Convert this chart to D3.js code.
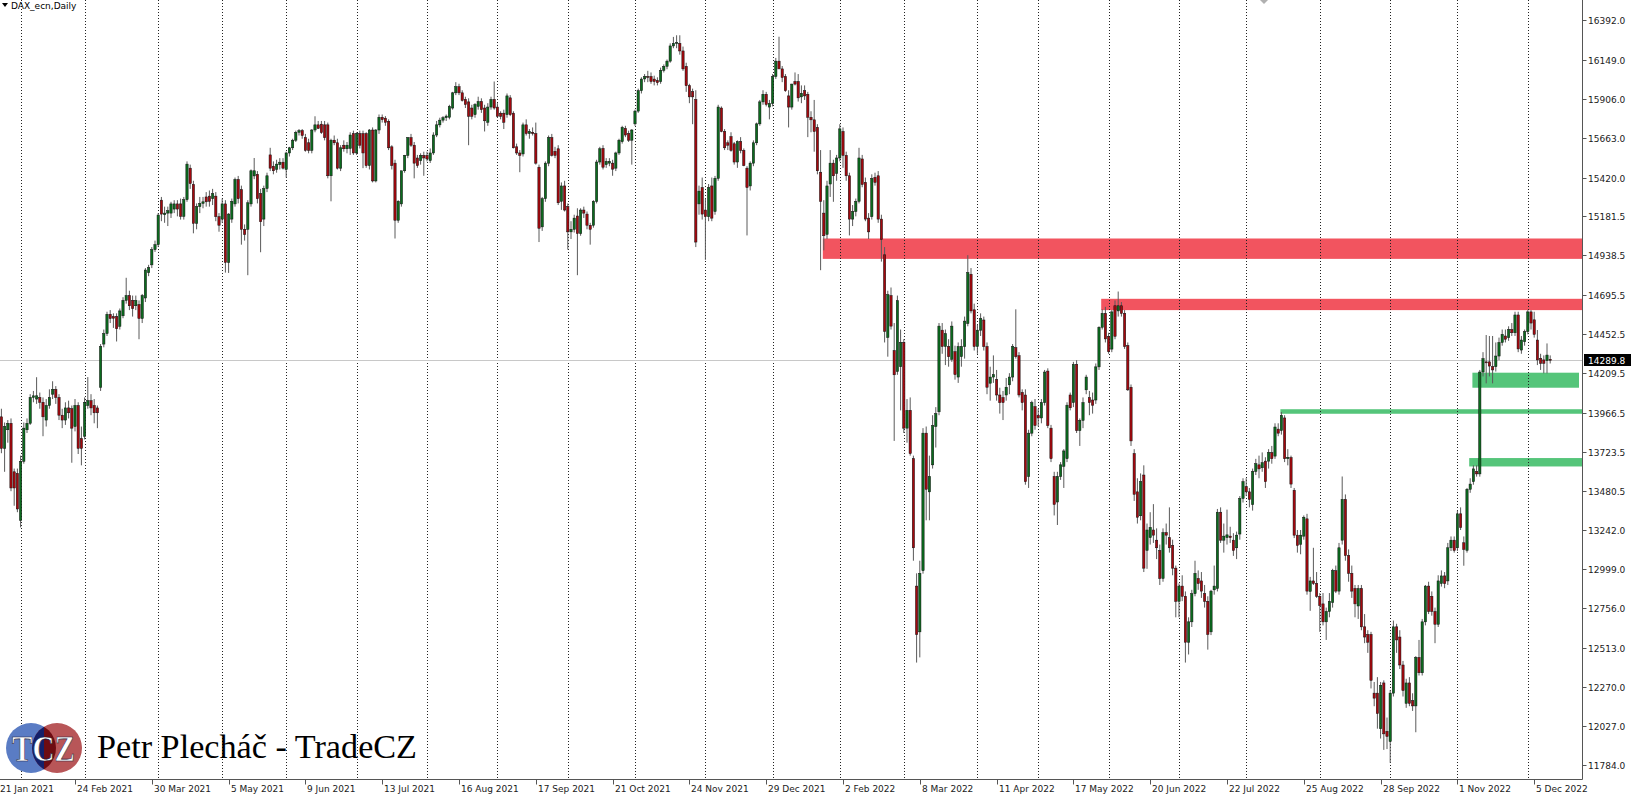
<!DOCTYPE html>
<html><head><meta charset="utf-8">
<script src="https://cdn.jsdelivr.net/npm/d3@7"></script>
<style>
html,body{margin:0;padding:0;background:#fff;overflow:hidden}
svg{display:block}
</style></head><body>
<svg id="c" width="1631" height="798"></svg>
<script>
// ---------------- data ----------------
const symbolTitle = "DAX_ecn,Daily";
const brandText = "Petr Plecháč - TradeCZ";
const logoText = "TCZ";
const firstCalendarDay = "2021-01-21";
const marketHolidays = ["2021-04-02","2021-04-05","2021-05-24","2021-12-24","2021-12-31","2022-04-15","2022-04-18"];
const xTickLabels = ["21 Jan 2021","24 Feb 2021","30 Mar 2021","5 May 2021","9 Jun 2021","13 Jul 2021","16 Aug 2021","17 Sep 2021","21 Oct 2021","24 Nov 2021","29 Dec 2021","2 Feb 2022","8 Mar 2022","11 Apr 2022","17 May 2022","20 Jun 2022","22 Jul 2022","25 Aug 2022","28 Sep 2022","1 Nov 2022","5 Dec 2022"];
const yTickValues = [16392.0,16149.0,15906.0,15663.0,15420.0,15181.5,14938.5,14695.5,14452.5,14209.5,13966.5,13723.5,13480.5,13242.0,12999.0,12756.0,12513.0,12270.0,12027.0,11784.0];
const lastPrice = 14289.8;

const open = [
13940,13745,13860,13900,13600,13590,13300,13665,13860,13900,
14060,14050,14060,14030,13920,14010,14080,14110,14060,13950,
13920,13995,13990,13880,14010,13805,13820,14010,14040,14010,
13995,14123,14390,14455,14574,14560,14560,14500,14565,14660,
14690,14660,14627,14635,14548,14675,14832,14880,14974,15005,
15280,15190,15200,15200,15225,15257,15257,15180,15283,15478,
15377,15137,15240,15260,15300,15305,15290,15305,15178,15163,
15257,14895,15163,15257,15408,15345,15100,15100,15257,15430,
15440,15320,15163,15352,15560,15490,15471,15500,15515,15470,
15572,15604,15651,15700,15710,15667,15635,15588,15714,15746,
15750,15746,15746,15431,15651,15635,15478,15620,15598,15600,
15692,15572,15692,15692,15692,15494,15714,15399,15714,15793,
15787,15768,15610,15509,15156,15257,15462,15557,15667,15620,
15541,15525,15557,15557,15525,15572,15683,15746,15775,15790,
15793,15850,15944,15982,15944,15903,15888,15850,15809,15860,
15890,15850,15762,15856,15903,15856,15818,15818,15809,15913,
15818,15610,15572,15566,15746,15692,15700,15692,15484,15115,
15289,15509,15667,15582,15598,15273,15368,15241,15084,15100,
15182,15074,15219,15194,15125,15125,15273,15516,15600,15500,
15509,15509,15478,15572,15642,15724,15692,15651,15752,15831,
15957,16030,16045,16045,16029,16020,16014,16083,16108,16140,
16234,16250,16250,16203,16108,15988,15951,15903,15257,15358,
15219,15178,15368,15210,15415,15850,15705,15635,15673,15629,
15516,15642,15588,15478,15368,15509,15635,15752,15888,15935,
15856,15878,16045,16140,16092,16045,15925,15856,16014,16014,
15919,15957,15935,15793,15777,15730,15453,15200,15068,15380,
15509,15446,15541,15705,15557,15431,15163,15210,15273,15535,
15390,15169,15178,15421,15431,15163,14942,14431,14690,14350,
14220,14250,14400,13870,13980,13681,12893,12610,12988,13839,
13476,13643,13880,13971,14476,14375,14375,14296,14343,14186,
14312,14375,14517,14822,14602,14375,14476,14539,14375,14148,
14186,14170,14075,14059,14075,14138,14186,14368,14318,14091,
14075,13571,13839,14003,13949,13933,14028,14223,13870,13571,
13413,13571,13634,13681,14075,14028,14264,13855,13918,14107,
14059,14044,14044,14249,14494,14580,14438,14359,14627,14595,
14627,14580,14381,14123,13713,13476,13328,13580,13114,13193,
13240,13177,13114,12940,13224,13193,13145,13004,12799,12893,
12830,12546,12672,12846,12940,12925,12846,12799,12610,12870,
12878,13350,13177,13193,13202,13177,13130,13215,13435,13508,
13476,13398,13602,13643,13625,13666,13666,13719,13697,13864,
13855,13933,13681,13688,13486,13208,13152,13202,13309,12860,
12925,12909,12830,12783,12672,12736,12792,12988,12862,13177,
13429,13082,12972,12878,12770,12878,12641,12594,12594,12231,
12231,12011,12294,11995,11932,12231,12641,12578,12405,12168,
12294,12184,12152,12452,12357,12672,12893,12830,12736,12657,
12909,12956,12925,13130,13177,13130,13340,13161,13114,13492,
13539,13602,13587,14217,14280,14280,14250,14250,14316,14400,
14440,14430,14480,14460,14570,14353,14405,14467,14589,14540,
14415,14302,14292,14287,14296];
const high = [
13990,13905,13920,13930,13620,13620,13700,13905,13930,14080,
14100,14185,14090,14060,14050,14110,14160,14130,14080,13990,
14030,14040,14010,14050,14030,13880,14060,14186,14080,14050,
14010,14390,14480,14590,14600,14580,14580,14610,14680,14800,
14720,14690,14690,14660,14700,14860,14880,14990,15030,15200,
15300,15240,15240,15270,15280,15280,15290,15300,15520,15500,
15400,15260,15300,15300,15330,15340,15350,15330,15200,15290,
15280,15200,15290,15420,15430,15370,15130,15280,15470,15541,
15460,15350,15370,15450,15604,15520,15530,15540,15540,15580,
15610,15660,15710,15720,15720,15690,15660,15720,15799,15770,
15770,15770,15760,15660,15680,15660,15620,15650,15640,15700,
15710,15700,15710,15710,15700,15720,15730,15720,15810,15810,
15800,15780,15620,15530,15280,15460,15560,15670,15690,15640,
15560,15570,15580,15580,15600,15700,15770,15790,15800,15810,
15870,15950,16010,16000,15960,15920,15910,15870,15880,15920,
15910,15870,15880,15920,16014,15880,15830,15840,15940,15930,
15830,15630,15590,15760,15780,15720,15730,15760,15500,15300,
15520,15680,15690,15610,15620,15390,15400,15260,15150,15190,
15230,15230,15240,15210,15140,15280,15530,15610,15620,15540,
15540,15530,15580,15660,15740,15740,15710,15720,15840,15970,
16040,16060,16080,16070,16050,16040,16100,16120,16150,16250,
16290,16300,16300,16230,16130,16000,15970,15960,15370,15420,
15290,15380,15420,15430,15870,15860,15720,15650,15700,15640,
15650,15670,15600,15490,15520,15650,15760,15900,15960,15950,
15900,16060,16160,16291,16110,16060,15960,16000,16070,16060,
15990,15990,15950,15830,15900,15750,15590,15280,15400,15590,
15530,15560,15750,15730,15580,15450,15250,15290,15604,15560,
15420,15200,15440,15450,15460,15190,14990,14720,14740,14520,
14690,14480,14420,14050,14060,13700,12972,13050,13870,13880,
13700,13950,14000,14520,14520,14480,14420,14530,14380,14400,
14420,14560,14940,14860,14640,14510,14580,14560,14400,14250,
14320,14230,14120,14100,14180,14210,14390,14605,14340,14110,
14110,13860,14040,14050,13990,14050,14230,14240,13890,13600,
13600,13660,13740,14030,14090,14280,14290,13930,14060,14200,
14100,14090,14270,14500,14605,14620,14460,14600,14660,14715,
14650,14600,14400,14140,13740,13560,13590,13640,13280,13350,
13400,13250,13150,13250,13280,13380,13180,13020,12910,12960,
12860,12700,12870,13050,12990,12980,12900,12830,12870,13020,
13370,13380,13280,13366,13260,13220,13230,13450,13560,13560,
13500,13620,13680,13700,13720,13690,13740,13760,13900,13900,
13970,13950,13740,13700,13500,13240,13240,13330,13340,12950,
13130,12980,12850,12850,12760,12850,13000,13020,13160,13571,
13460,13120,13020,12900,12900,12900,12720,12620,12610,12300,
12330,12300,12310,12080,12250,12680,12660,12620,12430,12320,
12330,12230,12460,12560,12690,12900,12920,12860,12760,12960,
12990,12980,13160,13200,13200,13360,13380,13200,13500,13560,
13640,13640,14230,14340,14446,14440,14440,14400,14430,14480,
14480,14500,14520,14590,14590,14440,14480,14600,14600,14590,
14477,14330,14320,14394,14320];
const low = [
13715,13600,13780,13480,13390,13350,13256,13650,13840,13890,
14030,14020,13990,13820,13880,13990,14050,14020,13920,13870,
13890,13930,13656,13850,13710,13640,13800,13990,13950,13900,
13870,14100,14370,14440,14520,14490,14406,14480,14550,14640,
14600,14560,14600,14420,14520,14650,14810,14860,14960,14990,
15150,15140,15120,15170,15200,15180,15160,15160,15270,15350,
15075,15100,15200,15230,15240,15240,15250,15150,15085,15140,
14832,14830,15140,15240,15260,15005,15030,14816,15240,15410,
15260,14958,15120,15330,15460,15440,15450,15470,15470,15420,
15550,15590,15640,15680,15660,15580,15570,15570,15700,15720,
15690,15650,15415,15273,15620,15470,15460,15580,15570,15560,
15560,15560,15600,15478,15480,15470,15390,15390,15690,15760,
15740,15590,15470,15043,15140,15240,15450,15540,15610,15415,
15480,15500,15431,15520,15510,15560,15670,15730,15760,15770,
15780,15840,15930,15930,15890,15850,15620,15780,15790,15840,
15820,15705,15740,15840,15840,15790,15780,15720,15790,15800,
15600,15560,15453,15550,15680,15660,15680,15500,15021,15090,
15270,15490,15550,15540,15250,15220,15210,14974,15040,15080,
14816,15060,15170,15100,15005,15110,15260,15500,15470,15480,
15490,15431,15460,15560,15630,15670,15640,15500,15740,15820,
15940,16010,16010,16000,15990,15990,16000,16070,16090,16130,
16220,16220,16180,16080,15950,15880,15750,14990,15190,15160,
14911,15150,15150,15190,15400,15700,15590,15590,15580,15500,
15480,15570,15490,15062,15340,15490,15620,15740,15870,15860,
15780,15860,16030,16100,16010,15950,15730,15840,15990,15890,
15880,15900,15670,15700,15580,15440,14847,14970,15040,15300,
15270,15400,15520,15480,15400,15062,15120,15180,15260,15360,
15150,15040,15160,15370,15140,14900,14400,14312,14480,13791,
14200,13980,13840,13780,13700,13050,12420,12452,12970,13300,
13300,13620,13750,13950,14330,14260,14250,14280,14170,14150,
14250,14300,14500,14580,14350,14330,14440,14350,14080,14040,
14150,14040,13960,13920,14040,14080,14160,14300,14060,13980,
13520,13500,13820,13860,13880,13900,14010,13870,13660,13330,
13271,13550,13500,13660,13980,14000,13840,13760,13870,14080,
13950,13960,14020,14230,14480,14400,14330,14340,14420,14560,
14560,14360,14100,13760,13420,13280,13300,12980,13000,13150,
13160,13060,12900,12920,13150,13100,12960,12700,12700,12800,
12420,12470,12640,12830,12870,12820,12760,12500,12590,12840,
12860,13160,13100,13150,13160,13080,13060,13180,13410,13450,
13380,13360,13580,13560,13600,13500,13620,13650,13680,13820,
13830,13660,13640,13500,13190,13100,13090,13180,12840,12740,
12900,12820,12610,12650,12560,12700,12760,12850,12840,13150,
13050,12920,12820,12700,12690,12620,12540,12480,12260,12150,
12011,11950,11880,11885,11800,12210,12480,12380,12210,12140,
12150,12121,11989,12340,12340,12650,12720,12710,12540,12640,
12890,12880,12900,13110,13100,13110,13240,13019,13100,13470,
13520,13570,13570,14190,14147,14190,14147,14220,14290,14380,
14400,14410,14440,14440,14340,14330,14380,14450,14480,14430,
14260,14230,14209,14209,14270];
const close = [
13745,13880,13900,13500,13500,13370,13665,13870,13900,14060,
14070,14070,14030,13940,14010,14060,14110,14060,13950,13920,
13995,13965,13870,14010,13745,13745,14030,14040,13995,13965,
13965,14375,14455,14574,14548,14550,14485,14595,14660,14690,
14627,14610,14660,14548,14690,14848,14863,14974,15005,15188,
15194,15200,15215,15257,15257,15225,15180,15283,15503,15383,
15137,15240,15260,15270,15270,15273,15320,15178,15125,15257,
14895,15194,15273,15408,15289,15100,15068,15264,15462,15462,
15289,15147,15352,15431,15478,15462,15503,15515,15478,15572,
15604,15651,15700,15710,15680,15588,15588,15714,15746,15724,
15698,15667,15431,15651,15635,15478,15604,15598,15620,15683,
15572,15692,15620,15572,15494,15714,15399,15714,15793,15778,
15762,15604,15494,15156,15273,15462,15557,15667,15620,15509,
15494,15557,15541,15535,15572,15683,15746,15775,15790,15800,
15860,15944,15982,15944,15897,15872,15799,15799,15872,15890,
15840,15771,15856,15903,15850,15799,15799,15762,15925,15809,
15604,15572,15557,15746,15692,15705,15692,15509,15106,15289,
15509,15667,15557,15557,15264,15368,15219,15084,15100,15169,
15074,15219,15200,15125,15100,15273,15516,15598,15484,15520,
15520,15472,15572,15651,15730,15683,15651,15714,15831,15957,
16029,16045,16040,16014,16014,16007,16083,16108,16140,16234,
16250,16255,16203,16092,15988,15919,15919,15021,15336,15194,
15178,15358,15169,15415,15856,15705,15604,15620,15588,15516,
15642,15588,15494,15358,15509,15635,15752,15888,15935,15872,
15878,16045,16140,16092,16039,15957,15856,15998,15998,15913,
15941,15925,15793,15777,15705,15462,15273,15060,15368,15509,
15431,15541,15721,15557,15431,15163,15210,15273,15541,15377,
15163,15084,15415,15390,15163,15037,14469,14696,14501,14200,
14658,14400,13870,13980,13713,13130,12594,12972,13839,13492,
13571,13886,13960,14501,14375,14454,14312,14501,14201,14375,
14375,14532,14832,14595,14375,14476,14548,14375,14123,14186,
14201,14075,14028,14028,14123,14186,14375,14312,14075,14028,
13539,13839,14028,13886,13933,14028,14217,13886,13681,13398,
13571,13643,13729,14012,13996,14264,13855,13918,14028,14186,
14028,14012,14249,14494,14580,14422,14343,14589,14438,14627,
14580,14375,14107,13791,13461,13319,13539,13004,13240,13256,
13208,13130,12940,13224,13208,13130,13004,12799,12893,12830,
12546,12672,12846,12972,12909,12862,12799,12594,12862,12893,
13350,13177,13202,13210,13193,13114,13208,13435,13539,13476,
13429,13602,13650,13618,13656,13539,13719,13681,13877,13839,
13949,13681,13690,13524,13208,13145,13208,13319,12862,12925,
12909,12830,12773,12672,12736,12799,12988,12862,13130,13429,
13082,12972,12862,12783,12878,12641,12578,12546,12310,12200,
12105,12279,11979,11963,12231,12641,12560,12405,12247,12294,
12168,12152,12452,12357,12672,12893,12736,12736,12657,12925,
12956,12909,13130,13177,13114,13340,13256,13120,13492,13524,
13618,13587,14217,14300,14274,14254,14230,14316,14400,14450,
14420,14480,14460,14570,14360,14415,14467,14589,14520,14450,
14292,14271,14271,14322,14290];

// horizontal zones drawn on the chart (prices and anchor dates)
const zoneStart = ["2022-01-25","2022-05-30","2022-08-16","2022-11-08","2022-11-07"];
const zoneEnd   = ["2022-12-26","2022-12-26","2022-12-26","2022-12-23","2022-12-26"];
const zoneLow   = [14917, 14600, 13959, 14120, 13633];
const zoneHigh  = [15043, 14670, 13987, 14213, 13685];
const zoneKind  = ["resistance","resistance","support","support","support"];

// ---------------- drawing ----------------
const W = 1631, H = 798;
const plotRight = 1582.5, plotBottom = 779.5;
const svg = d3.select("#c");
svg.append("rect").attr("width", W).attr("height", H).attr("fill", "#fff");

const fmtKey = d3.utcFormat("%Y-%m-%d");
const holidaySet = new Set(marketHolidays);
function tradingCalendar(startStr, count) {
  const out = [];
  let d = d3.utcParse("%Y-%m-%d")(startStr);
  while (out.length < count) {
    const wd = d.getUTCDay();
    if (wd !== 0 && wd !== 6 && !holidaySet.has(fmtKey(d))) out.push(d);
    d = d3.utcDay.offset(d, 1);
  }
  return out;
}
const N = close.length;
const calendar = tradingCalendar(firstCalendarDay, N + 40);
const calIndex = new Map(calendar.map((d, i) => [fmtKey(d), i]));

const x = d3.scaleLinear().domain([0, N]).range([-1.8, 1550.2]);
const y = d3.scaleLinear().domain([11784, 16392]).range([765.4, 20.4]);

const defs = svg.append("defs");
defs.append("clipPath").attr("id", "plotclip").append("rect")
  .attr("x", 0).attr("y", 0).attr("width", plotRight).attr("height", plotBottom);

const plot = svg.append("g").attr("clip-path", "url(#plotclip)");

// zones (background objects)
const zoneColor = {resistance: "#F2545F", support: "#55C57A"};
zoneStart.forEach((s, i) => {
  const x0 = x(calIndex.get(s)) - 1;
  const x1 = Math.min(plotRight, x(calIndex.get(zoneEnd[i])));
  plot.append("rect")
    .attr("x", x0).attr("width", x1 - x0)
    .attr("y", y(zoneHigh[i])).attr("height", y(zoneLow[i]) - y(zoneHigh[i]))
    .attr("fill", zoneColor[zoneKind[i]]);
});

// month separators (dotted grid)
for (let c = 1; c <= N; c++) {
  if (calendar[c].getUTCMonth() !== calendar[c - 1].getUTCMonth()) {
    const gx = Math.round(x(c)) + 0.5;
    plot.append("line").attr("x1", gx).attr("x2", gx).attr("y1", 0).attr("y2", plotBottom)
      .attr("stroke", "#222").attr("stroke-width", 1).attr("stroke-dasharray", "1,2");
  }
}

// last price line
const py = Math.round(y(lastPrice)) + 0.5;
plot.append("line").attr("x1", 0).attr("x2", plotRight).attr("y1", py).attr("y2", py)
  .attr("stroke", "#C8C8C8").attr("stroke-width", 1);

// candles
const bw = 2.3;
const candles = plot.append("g");
for (let b = 0; b < N; b++) {
  const cx = x(b + 1);
  candles.append("line").attr("x1", cx).attr("x2", cx)
    .attr("y1", y(high[b])).attr("y2", y(low[b]))
    .attr("stroke", "#5a5a5a").attr("stroke-width", 1);
}
for (let b = 0; b < N; b++) {
  const cx = x(b + 1);
  const up = close[b] >= open[b];
  const yt = y(Math.max(open[b], close[b]));
  const hh = Math.max(0.9, Math.abs(y(open[b]) - y(close[b])));
  candles.append("rect").attr("x", cx - bw / 2).attr("width", bw)
    .attr("y", yt).attr("height", hh)
    .attr("fill", up ? "#0B6B1E" : "#A3080E")
    .attr("stroke", "#111").attr("stroke-width", 0.5);
}

// axes lines
svg.append("line").attr("x1", 0).attr("x2", plotRight).attr("y1", plotBottom).attr("y2", plotBottom)
  .attr("stroke", "#555").attr("stroke-width", 1);
svg.append("line").attr("x1", plotRight).attr("x2", plotRight).attr("y1", 0).attr("y2", plotBottom)
  .attr("stroke", "#555").attr("stroke-width", 1);

// right price axis
const yAxis = svg.append("g");
yTickValues.forEach(v => {
  const ty = Math.round(y(v)) + 0.5;
  yAxis.append("line").attr("x1", plotRight).attr("x2", plotRight + 4).attr("y1", ty).attr("y2", ty)
    .attr("stroke", "#555");
  yAxis.append("text").attr("x", 1588).attr("y", ty).attr("dy", "0.35em")
    .attr("font-family", "DejaVu Sans, sans-serif").attr("font-size", 9).attr("fill", "#1a1a1a")
    .text(v.toFixed(1));
});
// last price label
yAxis.append("rect").attr("x", 1584).attr("y", py - 6.5).attr("width", 47).attr("height", 12).attr("fill", "#000");
yAxis.append("text").attr("x", 1588).attr("y", py).attr("dy", "0.35em")
  .attr("font-family", "DejaVu Sans, sans-serif").attr("font-size", 9).attr("fill", "#fff")
  .text(lastPrice.toFixed(1));

// bottom time axis
const parseLabel = d3.utcParse("%d %b %Y");
const xAxis = svg.append("g");
xTickLabels.forEach(lbl => {
  const c = calIndex.get(fmtKey(parseLabel(lbl)));
  const tx = Math.round(x(c)) + 0.5;
  xAxis.append("line").attr("x1", tx).attr("x2", tx).attr("y1", plotBottom).attr("y2", plotBottom + 5)
    .attr("stroke", "#555");
  xAxis.append("text").attr("x", tx + 1.5).attr("y", 792)
    .attr("font-family", "DejaVu Sans, sans-serif").attr("font-size", 9).attr("fill", "#1a1a1a")
    .text(lbl);
});

// title
svg.append("path").attr("d", "M2,3 L8,3 L5,7 Z").attr("fill", "#000");
svg.append("text").attr("x", 11).attr("y", 8.5)
  .attr("font-family", "DejaVu Sans, sans-serif").attr("font-size", 9).attr("fill", "#000")
  .text(symbolTitle);
// shift marker
svg.append("path").attr("d", "M1260,0 L1268,0 L1264,4 Z").attr("fill", "#b0b0b0");

// logo
const logo = svg.append("g");
const cyL = 748, rL = 25;
const cxA = 31, cxB = 57;
defs.append("clipPath").attr("id", "cA").append("circle").attr("cx", cxA).attr("cy", cyL).attr("r", rL);
defs.append("clipPath").attr("id", "cB").append("circle").attr("cx", cxB).attr("cy", cyL).attr("r", rL);
logo.append("circle").attr("cx", cxA).attr("cy", cyL).attr("r", rL).attr("fill", "#5A7CC4");
logo.append("circle").attr("cx", cxB).attr("cy", cyL).attr("r", rL).attr("fill", "#B85658");
const lens = logo.append("g").attr("clip-path", "url(#cA)").append("g").attr("clip-path", "url(#cB)");
lens.append("rect").attr("x", cxB - rL).attr("y", cyL - rL).attr("width", (cxA + rL - (cxB - rL)) / 2).attr("height", 2 * rL).attr("fill", "#14206A");
lens.append("rect").attr("x", cxB - rL + (cxA + rL - (cxB - rL)) / 2).attr("y", cyL - rL).attr("width", (cxA + rL - (cxB - rL)) / 2).attr("height", 2 * rL).attr("fill", "#6E0C12");
logo.append("text").attr("x", 12).attr("y", 761)
  .attr("font-family", "Liberation Serif, serif").attr("font-weight", "bold").attr("font-size", 35)
  .attr("fill", "#fff").attr("stroke", "#1a1a3a").attr("stroke-width", 0.6)
  .attr("textLength", 63).attr("lengthAdjust", "spacingAndGlyphs")
  .text(logoText);
svg.append("text").attr("x", 97).attr("y", 758)
  .attr("font-family", "Liberation Serif, serif").attr("font-size", 33).attr("fill", "#000")
  .attr("textLength", 320).attr("lengthAdjust", "spacingAndGlyphs")
  .text(brandText);
</script>
</body></html>
